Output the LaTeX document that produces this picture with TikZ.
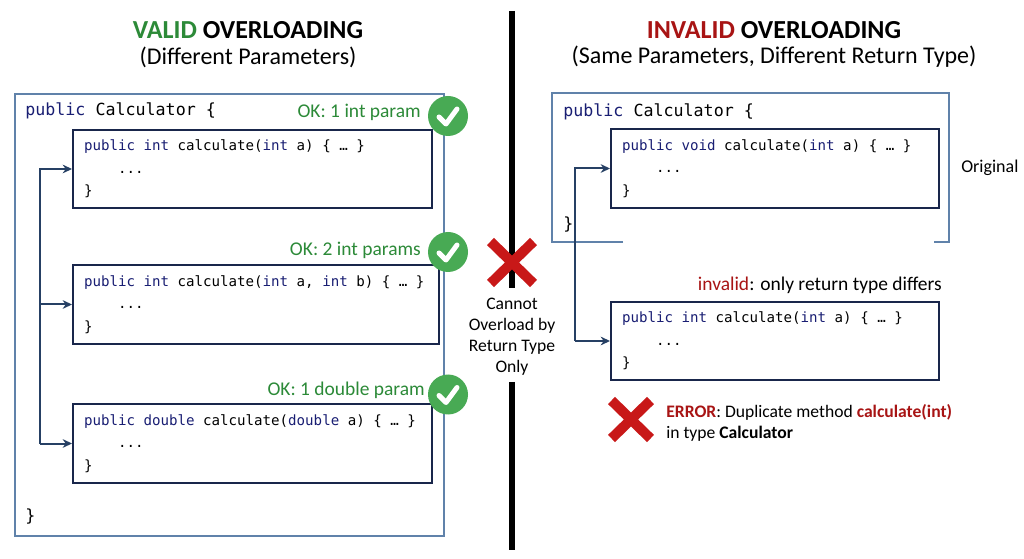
\documentclass[tikz,border=0pt]{standalone}
\usepackage{fontspec}
\setmainfont{Carlito}
\newfontfamily\codefont{DejaVu Sans Mono}
\usepackage{xcolor}
\usepackage{tikz}
\usetikzlibrary{arrows.meta}
\definecolor{kwblue}{RGB}{25,30,115}
\definecolor{okgreen}{RGB}{44,138,56}
\definecolor{checkgreen}{RGB}{72,170,84}
\definecolor{badred}{RGB}{200,24,24}
\definecolor{darkred}{RGB}{168,20,20}
\definecolor{frameblue}{RGB}{96,130,170}
\definecolor{boxnavy}{RGB}{25,38,75}
\definecolor{arrownavy}{RGB}{38,64,100}
\newcommand{\kw}[1]{\textcolor{kwblue}{#1}}
\newcommand{\okmark}[1]{\fill[checkgreen] #1 circle (20);
  \draw[white,line width=3.75pt,line cap=round,line join=round] #1 ++(-9,1) -- ++(7,7) -- ++(11,-15);}
\newcommand{\nomark}[3]{\draw[badred,line width=7.5pt,shift={#1}] (-#2,-#3) -- (#2,#3) (-#2,#3) -- (#2,-#3);}

\begin{document}
\begin{tikzpicture}[x=0.75pt,y=-0.75pt,
  outer/.style={draw=frameblue,line width=1.1pt},
  method/.style={draw=boxnavy,line width=1.5pt,fill=white,minimum height=59pt,inner xsep=8.25pt,inner ysep=2pt,
    align=flush left,anchor=west,font=\codefont\fontsize{10.6}{16.9}\selectfont},
  classline/.style={anchor=west,inner sep=0pt,font=\codefont\fontsize{12.5}{15}\selectfont},
  flow/.style={draw=arrownavy,line width=1.5pt,-{Stealth[length=7pt,width=6.5pt]}},
  oklabel/.style={anchor=east,inner sep=0pt,text=okgreen,font=\fontsize{14.6}{17}\selectfont},
  title/.style={font=\bfseries\fontsize{19.5}{23}\selectfont},
  subtitle/.style={font=\fontsize{18}{22}\selectfont},
  remark/.style={inner sep=0pt,font=\fontsize{13.2}{15.75}\selectfont}]
\useasboundingbox (0,0) rectangle (1024,559);
\fill[white] (0,0) rectangle (1024,559);

\node[title] (ltitle) at (248,30) {\textcolor{okgreen}{VALID} OVERLOADING};
\node[subtitle] (lsub) at (248,57) {(Different Parameters)};
\node[title] (rtitle) at (774,30) {\textcolor{darkred}{INVALID} OVERLOADING};
\node[subtitle] (rsub) at (774,57) {(Same Parameters, Different Return Type)};

\draw[line width=4.5pt] (512,11) -- (512,288);
\draw[line width=4.5pt] (512,382) -- (512,550);
\nomark{(512,262.5)}{21.5}{21}
\node[remark,align=flush center] (why) at (512,336.5) {Cannot\\Overload by\\Return Type\\Only};

\draw[outer] (15,94) rectangle (444,536);
\node[classline] (lhead) at (25,111) {\kw{public} Calculator \{};
\node[classline] (lend) at (25,517) {\}};
\node[method,text width=252.75pt] (m1) at (72,169)
  {\kw{public} \kw{int} calculate(\kw{int} a) \{ … \}\\\hphantom{abcd}...\\\}};
\node[method,text width=258pt] (m2) at (72,304.5)
  {\kw{public} \kw{int} calculate(\kw{int} a, \kw{int} b) \{ … \}\\\hphantom{abcd}...\\\}};
\node[method,text width=252.75pt] (m3) at (72,443.5)
  {\kw{public} \kw{double} calculate(\kw{double} a) \{ … \}\\\hphantom{abcd}...\\\}};
\coordinate (ltrunk) at (40,443.5);
\draw[flow] (ltrunk) |- (m1.west);
\draw[flow] (ltrunk) |- (m2.west);
\draw[flow] (ltrunk) -- (m3.west);
\node[oklabel] (ok1) at (421,112) {OK: 1 int param};
\node[oklabel] (ok2) at (421,250) {OK: 2 int params};
\node[oklabel] (ok3) at (425,390) {OK: 1 double param};
\okmark{(448,116)}
\okmark{(448,252)}
\okmark{(448,394.5)}

\draw[outer] (623,242) -- (552,242) -- (552,93) -- (949,93) -- (949,242) -- (934,242);
\node[classline] (rhead) at (563,112) {\kw{public} Calculator \{};
\node[classline] (rend) at (563,225) {\}};
\node[method,text width=229.5pt] (orig) at (610,168.5)
  {\kw{public} \kw{void} calculate(\kw{int} a) \{ … \}\\\hphantom{abcd}...\\\}};
\node[remark,anchor=west,font=\fontsize{13.5}{16}\selectfont] (origtag) at (961,168) {Original};
\node[oklabel,text=black] (diff) at (942,285) {\textcolor{darkred}{invalid}: only return type differs};
\node[method,text width=229.5pt] (dup) at (610,341)
  {\kw{public} \kw{int} calculate(\kw{int} a) \{ … \}\\\hphantom{abcd}...\\\}};
\coordinate (rtrunk) at (575,341);
\draw[flow] (rtrunk) |- (orig.west);
\draw[flow] (rtrunk) -- (dup.west);
\nomark{(631,419.5)}{19.5}{19}
\node[remark,anchor=west,align=flush left] (error) at (666,422.5)
  {\textcolor{darkred}{\textbf{ERROR}}: Duplicate method \textcolor{darkred}{\textbf{calculate(int)}}\\in type \textbf{Calculator}};
\end{tikzpicture}
\end{document}
